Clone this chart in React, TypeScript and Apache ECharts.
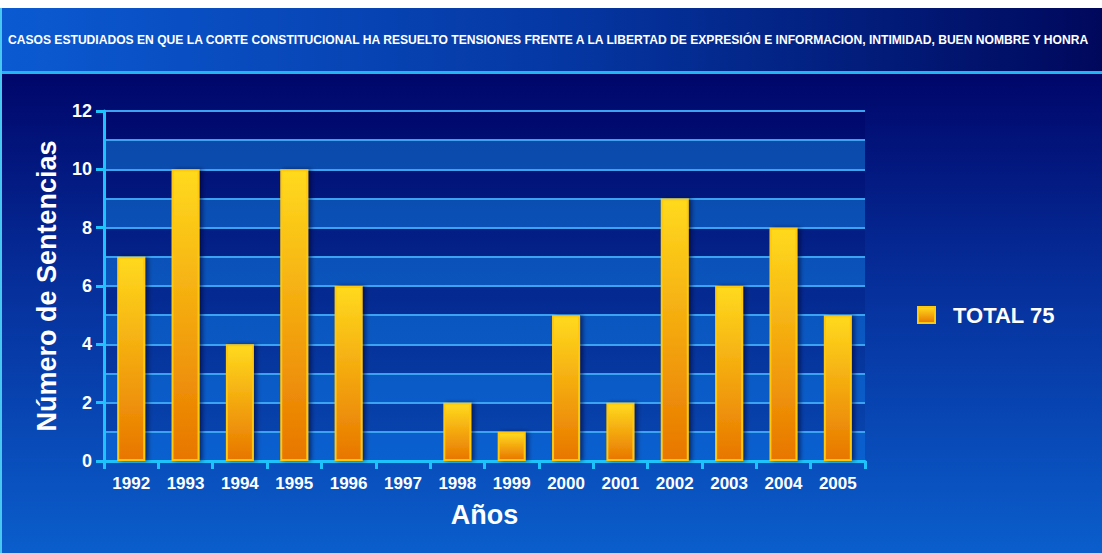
import React, { useEffect, useRef } from "react";
import * as echarts from "echarts";

const TITLE =
  "CASOS ESTUDIADOS EN QUE LA CORTE CONSTITUCIONAL HA RESUELTO TENSIONES FRENTE A LA LIBERTAD DE EXPRESIÓN E INFORMACION, INTIMIDAD, BUEN NOMBRE Y HONRA";
const YEARS = ["1992", "1993", "1994", "1995", "1996", "1997", "1998", "1999", "2000", "2001", "2002", "2003", "2004", "2005"];
const SENTENCIAS = [7, 10, 4, 10, 6, 0, 2, 1, 5, 2, 9, 6, 8, 5];
const SERIES_NAME = "TOTAL 75";
const Y_NAME = "Número de Sentencias";
const X_NAME = "Años";

const W = 1102;
const H = 553;
const GRID = { left: 104, right: 237, top: 111, bottom: 92 };
const FONT = "'Liberation Sans', Arial, sans-serif";
const CYAN = "#1ec3fb";

export default function App() {
  const ref = useRef<HTMLDivElement>(null);
  useEffect(() => {
    if (!ref.current) return;
    const chart = echarts.init(ref.current, undefined, { renderer: "svg" });
    const plotTop = GRID.top;
    const plotBottom = H - GRID.bottom;
    const gl = (y1: number, y2: number, c1: string, c2: string) => ({
      type: "linear",
      global: true,
      x: 0,
      y: y1,
      x2: 0,
      y2: y2,
      colorStops: [
        { offset: 0, color: c1 },
        { offset: 1, color: c2 },
      ],
    });
    const barColor = new echarts.graphic.LinearGradient(0, 0, 0, 1, [
      { offset: 0, color: "#ffda1e" },
      { offset: 1, color: "#e87600" },
    ]);
    chart.setOption({
      animation: false,
      backgroundColor: "#ffffff",
      textStyle: { fontFamily: FONT },
      graphic: {
        z: -100,
        elements: [
          {
            type: "rect",
            z: -100,
            shape: { x: 0, y: 8, width: W, height: 64 },
            style: {
              fill: new echarts.graphic.LinearGradient(0, 0, 1, 0, [
                { offset: 0, color: "#0b5ad2" },
                { offset: 0.5, color: "#0538a4" },
                { offset: 1, color: "#00085c" },
              ]),
            },
          },
          {
            type: "rect",
            z: -100,
            shape: { x: 0, y: 74, width: W, height: H - 74 },
            style: {
              fill: new echarts.graphic.LinearGradient(0, 0, 0, 1, [
                { offset: 0, color: "#00066a" },
                { offset: 0.45, color: "#06309c" },
                { offset: 1, color: "#0a5ecc" },
              ]),
            },
          },
          {
            type: "rect",
            z: -99,
            shape: { x: 0, y: 71, width: W, height: 3 },
            style: { fill: "#22b6f0" },
          },
          {
            type: "rect",
            z: -99,
            shape: { x: 0, y: 8, width: 2, height: H - 8 },
            style: { fill: "#48c8f0" },
          },
          {
            type: "text",
            z: 10,
            x: 8,
            y: 40,
            style: {
              text: TITLE,
              fill: "#ffffff",
              font: "bold 12.1px 'Liberation Sans', Arial, sans-serif",
              verticalAlign: "middle",
              align: "left",
            },
          },
        ],
      },
      grid: {
        ...GRID,
        show: true,
        borderWidth: 0,
        backgroundColor: gl(plotTop, plotBottom, "#0a48a8", "#0a60d0"),
      },
      legend: {
        orient: "vertical",
        left: 912,
        top: 299,
        itemWidth: 17,
        itemHeight: 16,
        icon: "rect",
        textStyle: {
          color: "#ffffff",
          fontSize: 22,
          fontWeight: "bold",
          fontFamily: FONT,
          padding: [0, 0, 0, 13],
        },
        data: [SERIES_NAME],
      },
      xAxis: {
        type: "category",
        data: YEARS,
        boundaryGap: true,
        axisLine: { show: true, lineStyle: { color: CYAN, width: 3 } },
        axisTick: { show: true, length: 8, lineStyle: { color: CYAN, width: 3 } },
        axisLabel: {
          color: "#ffffff",
          fontSize: 17,
          fontWeight: "bold",
          fontFamily: FONT,
          margin: 14,
          interval: 0,
        },
        splitLine: { show: false },
        name: X_NAME,
        nameLocation: "middle",
        nameGap: 40,
        nameTextStyle: { color: "#ffffff", fontSize: 27, fontWeight: "bold", fontFamily: FONT },
      },
      yAxis: [
        {
          type: "value",
          min: 0,
          max: 12,
          interval: 1,
          axisLine: { show: false },
          axisTick: { show: false },
          axisLabel: { show: false },
          splitLine: { show: true, lineStyle: { color: "#3ca2f2", width: 2 } },
          splitArea: {
            show: true,
            areaStyle: {
              color: ["rgba(0,0,0,0)", gl(plotTop, plotBottom, "#00086c", "#0848b2")],
            },
          },
        },
        {
          type: "value",
          min: 0,
          max: 12,
          interval: 2,
          position: "left",
          axisLine: { show: true, lineStyle: { color: CYAN, width: 3 } },
          axisTick: { show: true, length: 8, lineStyle: { color: CYAN, width: 3 } },
          axisLabel: {
            color: "#ffffff",
            fontSize: 18,
            fontWeight: "bold",
            fontFamily: FONT,
            margin: 12,
          },
          splitLine: { show: false },
          name: Y_NAME,
          nameLocation: "middle",
          nameRotate: 90,
          nameGap: 44,
          nameTextStyle: { color: "#ffffff", fontSize: 27, fontWeight: "bold", fontFamily: FONT },
        },
      ],
      series: [
        {
          type: "bar",
          name: SERIES_NAME,
          yAxisIndex: 0,
          barWidth: 28,
          data: SENTENCIAS.map((v) => (v === 0 ? { value: v, itemStyle: { borderWidth: 0 } } : v)),
          itemStyle: {
            color: barColor,
            borderColor: "#ffc80a",
            borderWidth: 2,
            shadowColor: "rgba(0,0,40,0.55)",
            shadowBlur: 4,
            shadowOffsetX: 3,
            shadowOffsetY: 0,
          },
        },
      ],
    });
    return () => chart.dispose();
  }, []);
  return (
    <div
      ref={ref}
      style={{ position: "absolute", left: 0, top: 0, width: W, height: H }}
    />
  );
}
